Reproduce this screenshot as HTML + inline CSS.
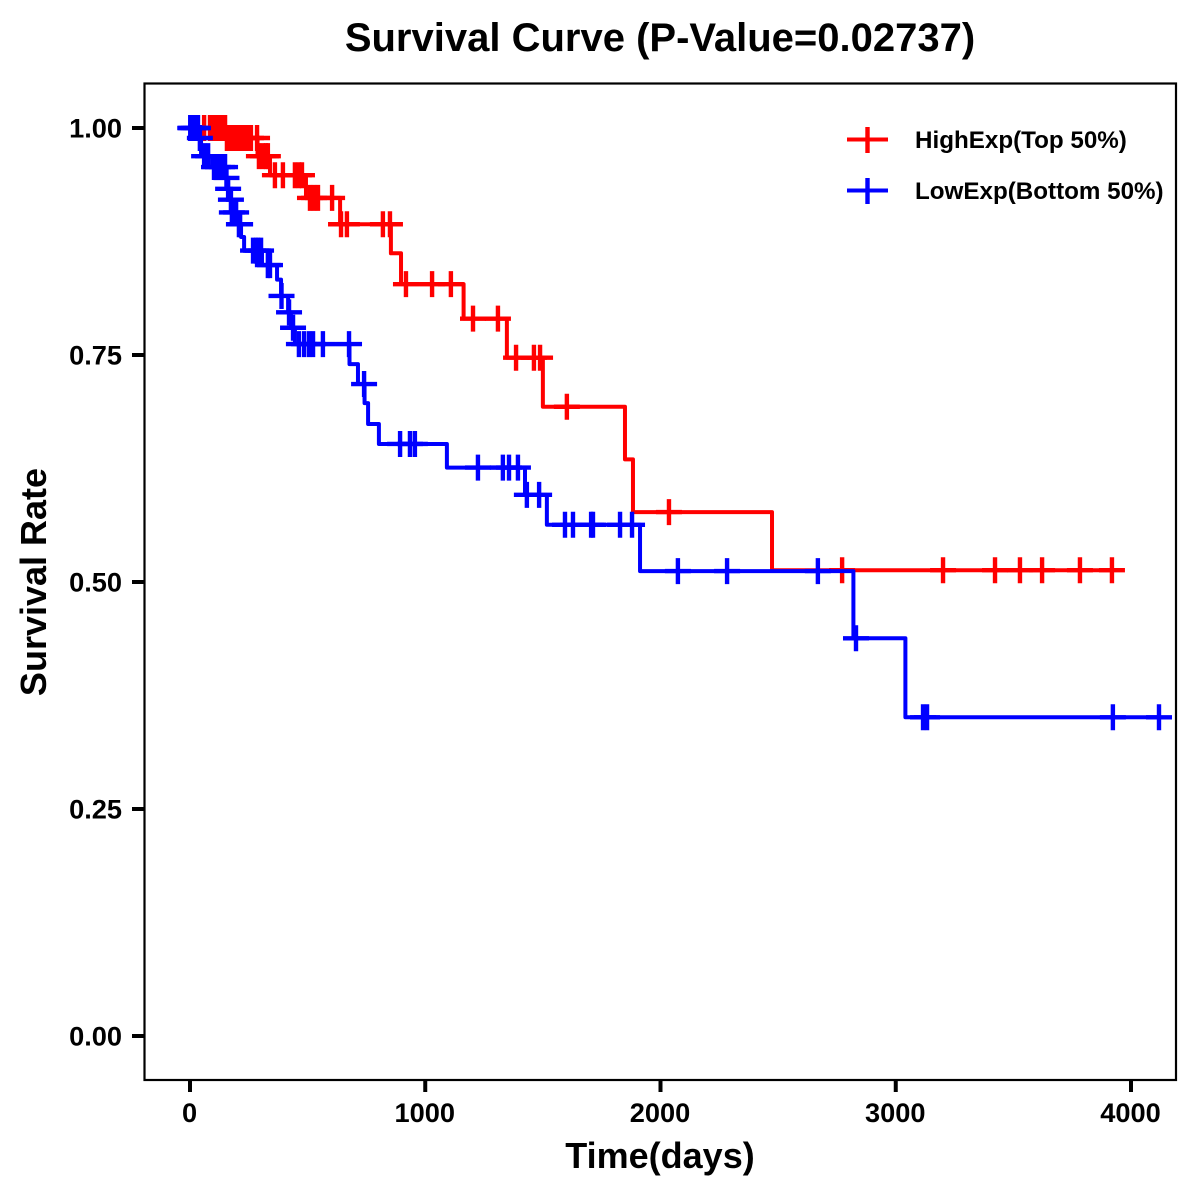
<!DOCTYPE html>
<html lang="en">
<head>
<meta charset="utf-8">
<title>Survival Curve</title>
<style>
html,body{margin:0;padding:0;background:#fff;}
svg{display:block;font-family:"Liberation Sans",Arial,sans-serif;font-weight:bold;fill:#000;}
</style>
</head>
<body>
<svg id="chart" xmlns="http://www.w3.org/2000/svg" width="1200" height="1200" viewBox="0 0 1200 1200">
  <rect x="0" y="0" width="1200" height="1200" fill="#fff"/>
  <text x="660" y="51" font-size="40" text-anchor="middle">Survival Curve (P-Value=0.02737)</text>
  <text x="660" y="1168" font-size="36" text-anchor="middle">Time(days)</text>
  <text x="0" y="0" font-size="36" text-anchor="middle" transform="translate(46,582) rotate(-90)">Survival Rate</text>
  <g id="axes"></g>
  <g id="series"></g>
  <g>
    <g>
      <line x1="847" x2="888" y1="139.5" y2="139.5" stroke="#f00" stroke-width="4"/>
      <line x1="867.5" x2="867.5" y1="127" y2="153" stroke="#f00" stroke-width="4.4"/>
      <text x="915" y="148" font-size="24.2">HighExp(Top 50%)</text>
    </g>
    <g>
      <line x1="847" x2="888" y1="190.5" y2="190.5" stroke="#00f" stroke-width="4"/>
      <line x1="867.5" x2="867.5" y1="178" y2="204" stroke="#00f" stroke-width="4.4"/>
      <text x="915" y="199" font-size="24.2">LowExp(Bottom 50%)</text>
    </g>
  </g>
</svg>
<script>
const xTicks = [0, 1000, 2000, 3000, 4000];
const xTickLabels = ["0", "1000", "2000", "3000", "4000"];
const yTicks = [0, 0.25, 0.5, 0.75, 1];
const yTickLabels = ["0.00", "0.25", "0.50", "0.75", "1.00"];

const highTimes = [0, 153, 287, 340, 493, 638, 854, 897, 1163, 1347, 1500, 1849, 1883, 2474, 3919];
const highSurvival = [1, 0.989, 0.969, 0.948, 0.923, 0.894, 0.862, 0.828, 0.79, 0.747, 0.693, 0.635, 0.577, 0.513, 0.513];
const highCensored = [60, 85, 102, 119, 132, 149, 157, 174, 191, 208, 225, 242, 259, 285, 293, 310, 323, 331, 361, 395, 446, 463, 476, 510, 527, 544, 604, 642, 667, 820, 850, 918, 1029, 1109, 1203, 1309, 1386, 1462, 1488, 1602, 2036, 2772, 3201, 3422, 3528, 3622, 3783, 3919];

const lowTimes = [0, 40, 47, 94, 153, 159, 170, 176, 200, 217, 230, 306, 370, 387, 417, 429, 446, 678, 714, 742, 757, 803, 1092, 1424, 1517, 1913, 2820, 3041, 4119];
const lowSurvival = [1, 0.989, 0.969, 0.957, 0.945, 0.933, 0.921, 0.907, 0.894, 0.88, 0.865, 0.849, 0.833, 0.815, 0.797, 0.78, 0.762, 0.74, 0.718, 0.697, 0.674, 0.652, 0.626, 0.596, 0.563, 0.512, 0.438, 0.351, 0.351];
const lowCensored = [1, 5, 16, 25, 34, 42, 60, 77, 102, 119, 136, 149, 155, 162, 174, 178, 196, 208, 213, 268, 281, 289, 302, 331, 340, 389, 421, 438, 463, 485, 506, 523, 565, 676, 740, 893, 935, 956, 1224, 1330, 1356, 1394, 1432, 1484, 1594, 1628, 1705, 1713, 1828, 1879, 2074, 2283, 2669, 2831, 3116, 3133, 3923, 4119];

const SVG_NS = "http://www.w3.org/2000/svg";
const xScale = function (d) { return 190 + d * 0.23525; };
const yScale = function (s) { return 1036 - s * 908; };

function survivalAt(times, surv, t) {
  let value = surv[0];
  for (let i = 0; i < times.length; i++) {
    if (times[i] <= t) value = surv[i];
  }
  return value;
}

function makeSvg(tag, attrs, parent) {
  const el = document.createElementNS(SVG_NS, tag);
  Object.keys(attrs).forEach(function (k) { el.setAttribute(k, attrs[k]); });
  parent.appendChild(el);
  return el;
}

const axes = document.getElementById("axes");
const frame = makeSvg("rect", { x: 144.5, y: 83.5, width: 1031.5, height: 996.5, fill: "none", stroke: "#000", "stroke-width": 2.2 }, axes);



xTicks.forEach(function (t, i) {
  const x = xScale(t);
  const tick = makeSvg("line", { x1: x, x2: x, y1: 1081, y2: 1092, stroke: "#000", "stroke-width": 4 }, axes);
  
  
  const label = makeSvg("text", { x: x - 0.5, y: 1122, "font-size": 27.2, "text-anchor": "middle" }, axes);
  
  
  label.textContent = xTickLabels[i];
});

yTicks.forEach(function (t, i) {
  const y = yScale(t);
  const tick = makeSvg("line", { x1: 132, x2: 144, y1: y, y2: y, stroke: "#000", "stroke-width": 4 }, axes);
  
  
  const label = makeSvg("text", { x: 122, y: y + 9.5, "font-size": 27.2, "text-anchor": "end" }, axes);
  
  
  label.textContent = yTickLabels[i];
});

function drawSeries(times, surv, censored, color) {
  const seriesRoot = document.getElementById("series");
  const group = makeSvg("g", {}, seriesRoot);
  
  

  let d = "M" + xScale(times[0]) + " " + yScale(surv[0]);
  for (let i = 1; i < times.length; i++) {
    d += "H" + xScale(times[i]) + "V" + yScale(surv[i]);
  }
  const path = makeSvg("path", { d: d, fill: "none", stroke: color, "stroke-width": 4, "stroke-linejoin": "round" }, group);
  
  

  censored.forEach(function (t) {
    const x = xScale(t);
    const y = yScale(survivalAt(times, surv, t));
    const mark = makeSvg("path", {
      d: "M" + (x - 13) + " " + y + "H" + (x + 13) + "M" + x + " " + (y - 13) + "V" + (y + 13),
      fill: "none", stroke: color, "stroke-width": 4.4
    }, group);
    
    
  });
}

drawSeries(highTimes, highSurvival, highCensored, "#f00");
drawSeries(lowTimes, lowSurvival, lowCensored, "#00f");
</script>
</body>
</html>
